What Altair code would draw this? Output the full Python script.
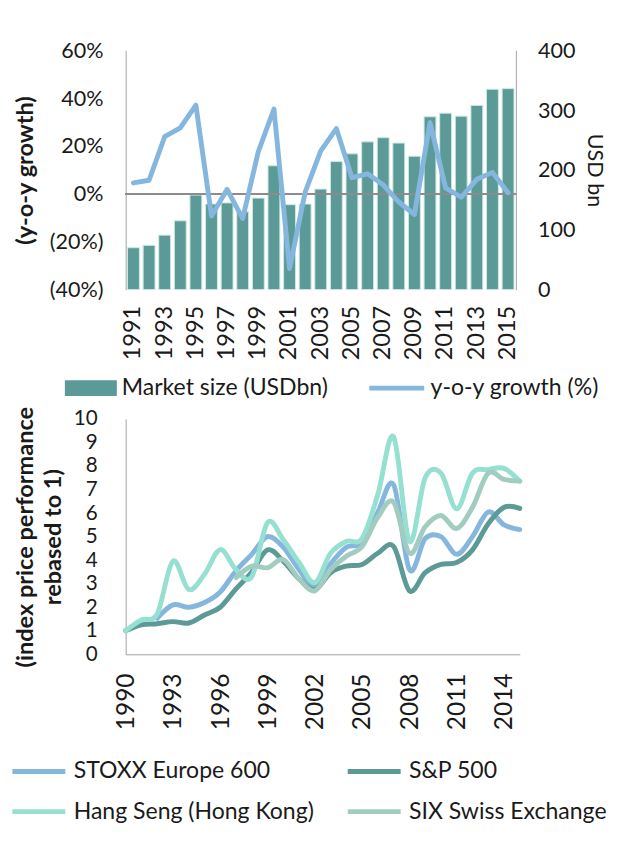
import altair as alt
import pandas as pd

# ---------------- data ----------------
years = list(range(1991, 2016))
market_size = [70, 74, 91, 115, 158, 143, 145, 130, 153, 207, 142, 143, 168,
               214, 227, 247, 254, 245, 223, 289, 295, 290, 308, 335, 336]
growth_pct = [4.6, 5.7, 23.9, 27.6, 37.1, -9.2, 1.9, -10.3, 17.7, 35.5, -31.2,
              0.7, 18.0, 27.3, 6.8, 8.4, 3.8, -3.4, -8.6, 29.8, 2.5, -1.4,
              6.1, 9.0, 0.5]
bar_name = "Market size (USDbn)"
line_name = "y-o-y growth (%)"

idx_years = list(range(1990, 2016))
series_names = ["STOXX Europe 600", "S&P 500", "Hang Seng (Hong Kong)",
                "SIX Swiss Exchange"]
stoxx = [None, None, 1.53, 2.1, 2.0, 2.2, 2.65, 3.55, 4.25, 5.0, 4.55, 3.6,
         2.88, 3.85, 4.55, 4.75, 6.05, 7.2, 3.6, 4.92, 5.0, 4.25, 5.0, 6.05,
         5.5, 5.3]
sp500 = [1.0, 1.25, 1.3, 1.39, 1.33, 1.67, 2.0, 2.78, 3.5, 4.44, 3.96, 3.2,
         2.75, 3.47, 3.75, 3.82, 4.3, 4.58, 2.7, 3.47, 3.82, 3.9, 4.44, 5.55,
         6.25, 6.2]
hangseng = [1.0, 1.46, 1.72, 3.96, 2.75, 3.4, 4.45, 3.6, 3.3, 5.6, 4.87, 3.9,
            3.05, 4.3, 4.8, 4.93, 6.8, 9.24, 4.8, 7.5, 7.7, 6.18, 7.7, 7.85,
            7.9, 7.36]
six = [None, None, None, None, None, None, None, 3.26, 3.75, 3.68, 4.03, 3.2,
       2.7, 3.6, 4.17, 4.58, 5.83, 6.46, 4.3, 5.42, 5.9, 5.35, 6.25, 7.7,
       7.43, 7.36]

top_x_labels = years[::2]
bottom_x_labels = list(range(1990, 2015, 3))

# ---------------- style ----------------
FONT = "Lato"
TXT = "#1a1a1a"
TEAL = "#5B9A96"
BLUE = "#85B6DD"
MINT = "#96E0D1"
SAGE = "#A3CCC1"
GRAY = "#A0A0A0"
LFS = 23.5    # legend labels

top_df = pd.DataFrame({
    "year": years,
    "market": market_size,
    "growth": [g / 100 for g in growth_pct],
    "bar_s": [bar_name] * len(years),
    "line_s": [line_name] * len(years),
})

rows = []
for name, vals in zip(series_names, [stoxx, sp500, hangseng, six]):
    for y, v in zip(idx_years, vals):
        if v is not None:
            rows.append({"year": y, "value": v, "series": name})
idx_df = pd.DataFrame(rows)

x_top = alt.X(
    "year:O",
    scale=alt.Scale(paddingInner=0.24, paddingOuter=0.12),
    axis=alt.Axis(values=top_x_labels, labelAngle=-90, domain=False,
                  ticks=False, labelPadding=16, labelFontSize=24, title=None),
)

base = alt.Chart(top_df)

bars = base.mark_bar(stroke="#CFE7E4", strokeWidth=1).encode(
    x=x_top,
    y=alt.Y("market:Q", scale=alt.Scale(domain=[0, 400]),
            axis=alt.Axis(orient="right", values=[0, 100, 200, 300, 400],
                          title="USD bn", titleFontWeight="normal",
                          titleFontSize=22, labelFontSize=22,
                          labelPadding=22, titlePadding=8, grid=False,
                          ticks=False)),
    fill=alt.Fill("bar_s:N",
                  scale=alt.Scale(domain=[bar_name], range=[TEAL]),
                  legend=alt.Legend(orient="none", legendX=-62, legendY=318,
                                    title=None, symbolType="M-1,-0.3H1V0.3H-1Z",
                                    symbolSize=2809, symbolStrokeWidth=0,
                                    labelOffset=5, labelLimit=400)),
)

zero_rule = base.mark_rule(color="#8C8C8C", strokeWidth=1.5).encode(
    y=alt.Y(datum=0, scale=alt.Scale(domain=[-0.4, 0.6]), axis=None),
)

left_label_expr = ("datum.value < 0 ? '(' + format(-datum.value, '.0%') + ')' "
                   ": format(datum.value, '.0%') + '\u2009'")

line = base.mark_line(strokeWidth=5, strokeCap="round",
                      strokeJoin="round").encode(
    x=x_top,
    y=alt.Y("growth:Q", scale=alt.Scale(domain=[-0.4, 0.6]),
            axis=alt.Axis(orient="left",
                          values=[-0.4, -0.2, 0, 0.2, 0.4, 0.6],
                          labelExpr=left_label_expr, labelFontSize=22,
                          title="(y-o-y growth)", titleFontWeight="bold",
                          titleFontSize=24, titleLimit=1000,
                          labelPadding=23, titlePadding=12, grid=False,
                          ticks=False)),
    stroke=alt.Stroke("line_s:N",
                      scale=alt.Scale(domain=[line_name], range=[BLUE]),
                      legend=alt.Legend(orient="none", legendX=246,
                                        legendY=314, title=None,
                                        symbolType="stroke", symbolSize=3136,
                                        symbolStrokeWidth=5, labelOffset=4,
                                        labelLimit=400)),
)

top = alt.layer(bars, zero_rule, line).resolve_scale(
    y="independent").properties(width=398, height=244)

bottom = alt.Chart(idx_df).mark_line(
    interpolate="cardinal", strokeWidth=5, strokeCap="round"
).encode(
    x=alt.X("year:Q", scale=alt.Scale(domain=[1990, 2015], nice=False,
                                       zero=False),
            axis=alt.Axis(values=bottom_x_labels, format="d", labelAngle=-90,
                          ticks=False, grid=False, title=None,
                          labelFontSize=25, labelPadding=19)),
    y=alt.Y("value:Q", scale=alt.Scale(domain=[0, 10]),
            axis=alt.Axis(values=list(range(0, 11)), grid=False, ticks=False,
                          labelOverlap=False,
                          labelFontSize=21, labelPadding=29, titlePadding=8,
                          title=["(index price performance", "rebased to 1)"],
                          titleFontWeight="bold", titleFontSize=24,
                          titleLineHeight=29, titleLimit=1000)),
    color=alt.Color("series:N",
                    scale=alt.Scale(domain=series_names,
                                    range=[BLUE, TEAL, MINT, SAGE]),
                    sort=series_names,
                    legend=alt.Legend(orient="none", direction="horizontal",
                                      legendX=-118, legendY=330, columns=2,
                                      title=None, symbolType="stroke",
                                      symbolSize=2916, symbolStrokeWidth=5,
                                      labelOffset=6, columnPadding=23,
                                      rowPadding=-2, labelLimit=400)),
).properties(width=402, height=240)

chart = alt.vconcat(top, bottom, spacing=132, bounds="flush").resolve_scale(
    color="independent", fill="independent", stroke="independent"
).resolve_legend(
    color="independent", fill="independent", stroke="independent"
).properties(
    padding={"top": 24, "left": 2, "right": 2, "bottom": 0}
).configure(
    font=FONT,
).configure_axis(
    labelFont=FONT, titleFont=FONT,
    labelColor=TXT, titleColor=TXT, domainColor=GRAY, domainWidth=1,
).configure_legend(
    labelFont=FONT, labelFontSize=LFS, labelColor=TXT,
).configure_view(stroke=None)

chart.save("out.html", embed_options={"renderer": "svg", "actions": False})
